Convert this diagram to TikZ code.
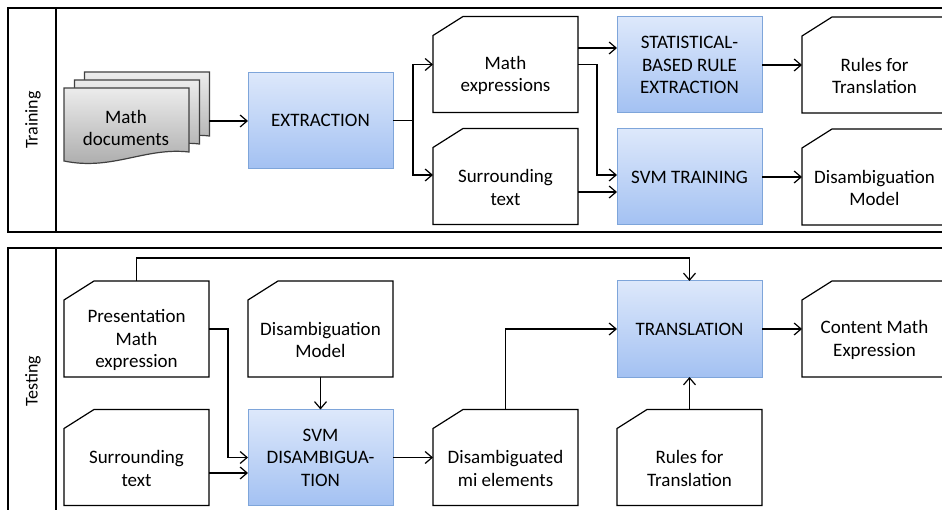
\documentclass[tikz,border=0pt]{standalone}
\usepackage{fontspec}
\setmainfont{Carlito}
\usetikzlibrary{arrows.meta}

\definecolor{proctop}{HTML}{DDE8FB}
\definecolor{procbot}{HTML}{A3C1F2}
\definecolor{procedge}{HTML}{7EA5DA}
\definecolor{doctop}{HTML}{ECECEC}
\definecolor{docbot}{HTML}{A8A8A8}
\definecolor{docedge}{HTML}{404040}

% outline of a card: rectangle with the upper-left corner cut off
\newcommand\cardoutline[1]{%
  \draw[cardedge] ([yshift=-19pt]#1.north west) -- ([xshift=30pt]#1.north west)
    -- (#1.north east) -- (#1.south east) -- (#1.south west) -- cycle;}

% one sheet of the stacked-document symbol, shifted by (#1,#2)
\newcommand\docsheet[2]{%
  \draw[docsheetstyle, shift={(#1,#2)}] (64,88) -- (189,88) -- (189,152)
    .. controls (145,147) and (112,171) .. (64,161) -- cycle;}

\begin{document}
\begin{tikzpicture}[x=1pt,y=-1pt,
  every node/.style={font=\fontsize{19}{22.5}\selectfont, align=center,
    outer sep=0pt, inner sep=0pt},
  procbox/.style={minimum width=145pt, minimum height=96pt, draw=procedge,
    line width=1pt, top color=proctop, bottom color=procbot},
  card/.style={minimum width=145pt, minimum height=96pt,
    label={[yshift=-11pt, align=center]center:{#1}}},
  cardedge/.style={draw=black, line width=1.2pt, line join=miter},
  docsheetstyle/.style={draw=docedge, line width=1.2pt, top color=doctop,
    bottom color=docbot},
  flow/.style={line width=1.2pt, -{Straight Barb[length=7pt,width=12pt]}},
  lane/.style={line width=1.3pt},
  lanelabel/.style={rotate=90, font=\fontsize{18}{21}\selectfont}
]
\useasboundingbox (0,0) rectangle (942,510);
\clip (0,0) rectangle (942,510);

% swim lanes
\draw[lane] (8,8) rectangle (960,232);
\draw[lane] (56,8) -- (56,232);
\draw[lane] (8,248) rectangle (960,530);
\draw[lane] (56,248) -- (56,530);
\node[lanelabel] (lab-train) at (33,120) {Training};
\node[lanelabel] (lab-test) at (33,381) {Testing};

% ---------- training ----------
\docsheet{20.5}{-16}
\docsheet{10.5}{-8}
\docsheet{0}{0}
\node (docs) at (126,128) {Math\\documents};
\coordinate (docs-out) at (209,121);

\node[procbox] (ext) at (320.5,120.5) {EXTRACTION};
\node[card={Math\\expressions}] (me) at (505.5,64.5) {};
\cardoutline{me}
\node[card={Surrounding\\text}] (st) at (505.5,176.5) {};
\cardoutline{st}
\node[procbox] (stat) at (689.5,65) {STATISTICAL-\\BASED RULE\\EXTRACTION};
\node[procbox] (svmt) at (689.5,177) {SVM TRAINING};
\node[card={Rules for\\Translation}] (rft) at (874.5,65) {};
\cardoutline{rft}
\node[card={Disambiguation\\Model}] (dmt) at (874.5,177) {};
\cardoutline{dmt}

\coordinate (split) at (413,120.5);
\draw[flow] (docs-out) -- (docs-out -| ext.west);
\draw[line width=1.2pt] (ext.east) -- (split);
\draw[flow] (split) |- (me.west);
\draw[flow] (split) |- ([yshift=1.5pt]st.west);
\draw[flow] ([yshift=16.5pt]me.east) -- ([yshift=16.5pt]me.east -| stat.west);
\draw[flow] (me.east) -- ++(19,0) |- ([yshift=2pt]svmt.west);
\draw[flow] ([yshift=-15.5pt]st.east) -- ([yshift=-15.5pt]st.east -| svmt.west);
\draw[flow] (stat.east) -- (stat.east -| rft.west);
\draw[flow] (svmt.east) -- (svmt.east -| dmt.west);

% ---------- testing ----------
\node[card={Presentation\\Math\\expression}] (pme) at (136.5,329) {};
\cardoutline{pme}
\node[card={Surrounding\\text}] (stt) at (136.5,457.5) {};
\cardoutline{stt}
\node[card={Disambiguation\\Model}] (dm2) at (320.5,329) {};
\cardoutline{dm2}
\node[procbox] (svmd) at (320.5,457.5) {SVM\\DISAMBIGUA-\\TION};
\node[card={Disambiguated\\mi elements}] (dme) at (505.5,457.5) {};
\cardoutline{dme}
\node[procbox] (tr) at (689.5,329) {TRANSLATION};
\node[card={Content Math\\Expression}] (cme) at (874.5,329) {};
\cardoutline{cme}
\node[card={Rules for\\Translation}] (rft2) at (689.5,457.5) {};
\cardoutline{rft2}

\coordinate (rail) at (400,258);
\draw[flow] (pme.north) -- (pme.north |- rail) -| (tr.north);
\draw[flow] (pme.east) -- ++(19,0) |- (svmd.west);
\draw[flow] ([yshift=-15.5pt]stt.east) -- ([yshift=-15.5pt]stt.east -| svmd.west);
\draw[flow] (dm2.south) -- (svmd.north);
\draw[flow] (svmd.east) -- (dme.west);
\draw[flow] (dme.north) |- (tr.west);
\draw[flow] (tr.east) -- (cme.west);
\draw[flow] (rft2.north) -- (tr.south);
\end{tikzpicture}
\end{document}
